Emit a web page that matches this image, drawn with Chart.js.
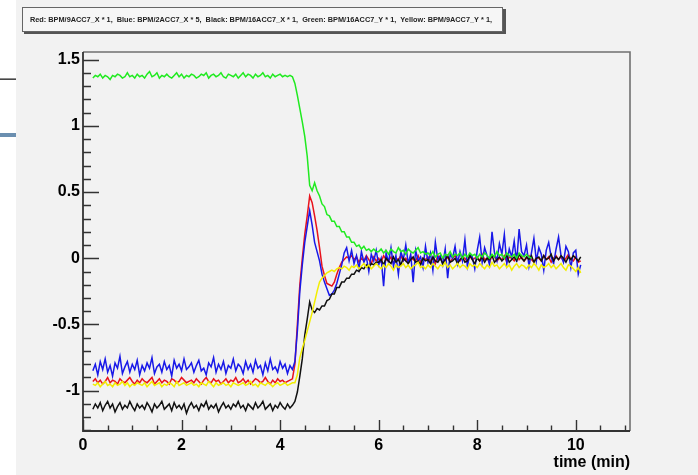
<!DOCTYPE html>
<html>
<head>
<meta charset="utf-8">
<script src="https://cdn.jsdelivr.net/npm/chart.js@4.4.1/dist/chart.umd.min.js"></script>
<style>
  html, body { margin: 0; padding: 0; background: #fff; }
  #wrap { width: 698px; height: 475px; }
</style>
</head>
<body>
<div id="wrap"><canvas id="bpm" width="698" height="475"></canvas></div>
<script>
// sampling: first sample at 0.2 min, one sample every 0.05 min
const startTime = 0.2;
const sampleStep = 0.05;

const legendText = "Red: BPM/9ACC7_X * 1,  Blue: BPM/2ACC7_X * 5,  Black: BPM/16ACC7_X * 1,  Green: BPM/16ACC7_Y * 1,  Yellow: BPM/9ACC7_Y * 1,";
const xTicks = [0, 2, 4, 6, 8, 10];
const yTicks = [-1, -0.5, 0, 0.5, 1, 1.5];

const red = [
  -0.93,-0.91,-0.94,-0.92,-0.95,-0.93,-0.90,-0.94,-0.92,-0.93,-0.95,-0.91,-0.93,-0.94,-0.92,-0.90,-0.93,-0.95,-0.92,-0.94,
  -0.91,-0.93,-0.94,-0.92,-0.90,-0.95,-0.93,-0.91,-0.94,-0.92,-0.93,-0.95,-0.91,-0.92,-0.94,-0.93,-0.90,-0.92,-0.94,-0.93,
  -0.92,-0.94,-0.91,-0.93,-0.95,-0.92,-0.90,-0.93,-0.94,-0.91,-0.93,-0.92,-0.95,-0.93,-0.91,-0.94,-0.92,-0.93,-0.90,-0.94,
  -0.93,-0.91,-0.94,-0.92,-0.95,-0.93,-0.91,-0.92,-0.94,-0.93,-0.90,-0.93,-0.95,-0.92,-0.94,-0.91,-0.93,-0.92,-0.94,-0.93,
  -0.92,-0.91,
  -0.80,-0.50,-0.20,0.00,0.18,0.32,0.47,0.42,0.32,0.21,0.08,-0.06,-0.13,-0.19,-0.20,-0.21,-0.18,-0.12,-0.07,-0.03,-0.01,0.01,0.00,0.02,
  -0.01,0.01,-0.03,0.00,-0.02,0.02,-0.01,-0.04,0.01,-0.02,
  0.00,-0.03,0.02,-0.01,-0.02,0.01,-0.04,0.00,-0.01,0.02,
  -0.02,0.00,-0.03,0.01,-0.01,-0.02,0.02,-0.03,0.00,-0.01,
  0.01,-0.02,0.00,-0.04,0.02,-0.01,0.00,-0.02,0.01,-0.03,
  0.00,0.02,-0.01,-0.02,0.01,0.00,-0.03,0.02,-0.01,0.00,
  0.01,-0.02,0.03,-0.01,0.00,-0.03,0.02,0.01,-0.02,0.00,
  -0.01,0.02,-0.03,0.01,0.00,-0.02,0.03,-0.01,0.01,-0.02,
  0.00,0.02,-0.01,-0.03,0.01,0.00,-0.02,0.02,-0.01,0.01,
  -0.03,0.00,0.02,-0.01,0.01,-0.02,0.00,0.03,-0.01,-0.02,
  0.01,-0.03,-0.02
];

const blue = [
  -0.85,-0.80,-0.88,-0.78,-0.84,-0.76,-0.86,-0.81,-0.89,-0.79,-0.83,-0.74,-0.87,-0.82,-0.78,-0.86,-0.80,-0.84,-0.77,-0.88,
  -0.81,-0.85,-0.79,-0.83,-0.75,-0.87,-0.82,-0.80,-0.86,-0.78,-0.84,-0.81,-0.89,-0.77,-0.83,-0.80,-0.85,-0.76,-0.84,-0.82,
  -0.79,-0.86,-0.81,-0.77,-0.85,-0.83,-0.88,-0.79,-0.82,-0.75,-0.86,-0.80,-0.84,-0.78,-0.87,-0.81,-0.83,-0.76,-0.85,-0.80,
  -0.82,-0.87,-0.78,-0.84,-0.80,-0.86,-0.77,-0.83,-0.81,-0.88,-0.79,-0.85,-0.76,-0.84,-0.82,-0.86,-0.78,-0.83,-0.80,-0.87,
  -0.81,-0.84,
  -0.78,-0.55,-0.25,-0.05,0.12,0.24,0.36,0.25,0.12,0.05,-0.02,-0.12,-0.18,-0.23,-0.28,-0.27,-0.24,-0.19,-0.12,-0.05,0.04,0.08,-0.02,0.06,
  -0.04,0.02,-0.08,0.05,-0.03,0.01,-0.10,0.03,-0.02,0.06,
  -0.05,0.00,-0.21,0.04,-0.03,0.08,-0.06,0.02,-0.12,0.05,
  -0.01,0.10,-0.04,0.03,-0.18,0.06,-0.02,0.01,-0.07,0.09,
  -0.03,0.04,-0.09,0.12,-0.01,0.02,-0.05,0.07,-0.15,0.03,
  0.00,0.09,-0.04,0.05,-0.02,0.14,-0.06,0.03,0.01,-0.08,
  0.06,0.16,-0.03,0.08,0.02,-0.05,0.20,0.04,-0.02,0.11,
  0.03,0.18,-0.04,0.07,0.01,0.13,-0.03,0.22,0.05,0.02,
  0.10,-0.06,0.04,0.15,-0.02,0.08,0.03,-0.09,0.06,0.12,
  0.01,-0.04,0.07,0.16,0.02,-0.03,0.09,0.05,-0.07,0.04,
  0.06,-0.12,-0.05
];

const black = [
  -1.14,-1.10,-1.13,-1.09,-1.15,-1.11,-1.08,-1.13,-1.10,-1.16,-1.12,-1.09,-1.14,-1.11,-1.13,-1.08,-1.12,-1.15,-1.10,-1.13,
  -1.11,-1.14,-1.09,-1.12,-1.16,-1.10,-1.13,-1.11,-1.08,-1.14,-1.12,-1.10,-1.15,-1.09,-1.13,-1.11,-1.14,-1.10,-1.17,-1.12,
  -1.09,-1.13,-1.11,-1.15,-1.10,-1.12,-1.08,-1.14,-1.11,-1.13,-1.10,-1.16,-1.12,-1.09,-1.13,-1.11,-1.14,-1.10,-1.12,-1.08,
  -1.13,-1.11,-1.15,-1.10,-1.12,-1.14,-1.09,-1.13,-1.11,-1.08,-1.14,-1.12,-1.10,-1.15,-1.11,-1.13,-1.09,-1.12,-1.14,-1.10,
  -1.13,-1.11,
  -1.08,-1.01,-0.89,-0.76,-0.58,-0.46,-0.33,-0.39,-0.41,-0.38,-0.39,-0.36,-0.36,-0.32,-0.31,-0.27,-0.27,-0.22,-0.22,-0.18,
  -0.18,-0.15,-0.15,-0.12,-0.12,-0.09,-0.10,-0.07,-0.08,-0.05,-0.07,-0.04,-0.05,-0.03,
  -0.03,-0.01,-0.05,0.00,-0.02,-0.04,0.01,-0.03,-0.01,-0.05,
  0.00,-0.02,-0.04,-0.01,0.01,-0.03,-0.02,-0.05,0.00,-0.02,
  -0.01,-0.04,0.01,-0.02,-0.03,0.00,-0.04,-0.01,0.02,-0.03,
  -0.02,0.00,-0.04,-0.01,0.01,-0.03,-0.02,0.02,-0.01,-0.04,
  0.00,-0.02,0.01,-0.03,0.00,-0.01,0.02,-0.03,-0.01,0.01,
  -0.02,0.00,0.02,-0.03,-0.01,0.01,-0.02,0.03,0.00,-0.02,
  0.01,-0.01,0.02,-0.03,0.00,0.01,-0.02,0.02,-0.01,0.00,
  0.03,-0.02,0.01,-0.01,0.02,0.00,-0.03,0.01,-0.01,0.02,
  0.00,-0.02,0.01
];

const green = [
  1.36,1.38,1.37,1.39,1.36,1.38,1.37,1.35,1.38,1.37,1.39,1.38,1.36,1.37,1.40,1.37,1.38,1.36,1.39,1.37,
  1.38,1.36,1.39,1.41,1.37,1.38,1.40,1.36,1.38,1.37,1.39,1.37,1.36,1.38,1.40,1.37,1.39,1.36,1.38,1.37,
  1.39,1.38,1.36,1.37,1.39,1.38,1.40,1.36,1.38,1.39,1.37,1.38,1.40,1.37,1.36,1.39,1.38,1.37,1.39,1.36,
  1.38,1.40,1.37,1.39,1.38,1.36,1.39,1.37,1.38,1.40,1.37,1.38,1.36,1.39,1.37,1.38,1.39,1.37,1.38,1.37,
  1.38,1.37,
  1.32,1.23,1.13,1.03,0.92,0.77,0.55,0.51,0.57,0.51,0.47,0.41,0.39,0.33,0.32,0.28,0.28,0.24,0.24,0.20,
  0.20,0.16,0.16,0.12,0.12,0.09,0.10,0.07,0.09,0.06,0.07,0.05,0.07,0.05,
  0.05,0.07,0.04,0.06,0.03,0.07,0.05,0.04,0.08,0.05,0.06,0.03,0.07,0.05,0.04,0.06,0.08,0.04,0.05,0.03,
  0.04,0.02,0.05,0.01,0.03,0.04,0.00,0.03,0.02,0.05,0.01,0.03,0.02,0.04,0.00,0.03,0.01,0.04,0.02,0.03,
  0.00,0.03,0.01,0.04,0.02,0.00,0.03,0.01,0.05,0.02,0.03,0.00,0.04,0.02,0.01,0.03,0.00,0.04,0.02,0.01,
  0.03,0.01,0.00
];

const yellow = [
  -0.95,-0.96,-0.94,-0.97,-0.95,-0.93,-0.96,-0.95,-0.97,-0.94,-0.96,-0.95,-0.93,-0.96,-0.94,-0.97,-0.95,-0.96,-0.94,-0.95,
  -0.96,-0.94,-0.97,-0.95,-0.93,-0.96,-0.95,-0.94,-0.97,-0.95,-0.96,-0.94,-0.95,-0.97,-0.93,-0.96,-0.95,-0.94,-0.96,-0.95,
  -0.94,-0.96,-0.95,-0.97,-0.94,-0.95,-0.96,-0.93,-0.95,-0.97,-0.94,-0.96,-0.95,-0.94,-0.96,-0.95,-0.97,-0.94,-0.95,-0.96,
  -0.95,-0.94,-0.96,-0.95,-0.93,-0.96,-0.95,-0.97,-0.94,-0.95,-0.96,-0.94,-0.95,-0.97,-0.95,-0.94,-0.96,-0.95,-0.94,-0.96,
  -0.95,-0.94,
  -0.94,-0.88,-0.75,-0.68,-0.62,-0.55,-0.48,-0.41,-0.33,-0.25,-0.18,-0.15,-0.13,-0.11,-0.10,-0.09,-0.10,-0.08,-0.07,-0.08,-0.06,-0.07,-0.09,-0.06,
  -0.07,-0.05,-0.08,-0.06,-0.04,-0.07,-0.05,-0.08,-0.06,-0.04,
  -0.06,-0.08,-0.05,-0.07,-0.04,-0.06,-0.09,-0.05,-0.07,-0.06,
  -0.04,-0.07,-0.05,-0.08,-0.06,-0.05,-0.03,-0.07,-0.06,-0.08,
  -0.05,-0.07,-0.04,-0.06,-0.08,-0.05,-0.06,-0.03,-0.07,-0.05,
  -0.08,-0.06,-0.04,-0.07,-0.05,-0.06,-0.08,-0.04,-0.06,-0.05,
  -0.07,-0.04,-0.06,-0.08,-0.05,-0.07,-0.03,-0.06,-0.05,-0.08,
  -0.06,-0.04,-0.07,-0.05,-0.09,-0.06,-0.04,-0.07,-0.05,-0.06,
  -0.08,-0.05,-0.07,-0.04,-0.06,-0.09,-0.05,-0.07,-0.06,-0.04,
  -0.07,-0.05,-0.08,-0.06,-0.04,-0.07,-0.09,-0.05,-0.06,-0.08,
  -0.10,-0.07,-0.11
];

const toPoints = vals => vals.map((v, i) => ({ x: startTime + i * sampleStep, y: v }));

function series(label, vals, color, order) {
  return {
    label: label,
    data: toPoints(vals),
    borderColor: color,
    backgroundColor: color,
    borderWidth: 1.5,
    pointRadius: 0,
    tension: 0,
    order: order
  };
}

// ROOT style decorations: grey pad, legend box, inward ticks and frame
const rootPad = {
  id: 'rootPad',
  beforeDraw(chart) {
    const c = chart.ctx;
    c.save();
    c.fillStyle = '#ffffff';
    c.fillRect(0, 0, chart.width, chart.height);
    c.fillStyle = '#f2f2f2';
    c.fillRect(16, 0, chart.width - 16, chart.height);
    // bits of the slide left of the picture
    c.fillStyle = '#1a1a1a';
    c.fillRect(0, 78.5, 16, 1.3);
    c.fillStyle = '#6b8fb0';
    c.fillRect(0, 133, 16, 4);

    // legend box with shadow
    c.fillStyle = '#555';
    c.fillRect(24, 9, 482, 25);
    c.fillStyle = '#f6f6f6';
    c.fillRect(22, 7, 481, 25);
    c.strokeStyle = '#666';
    c.lineWidth = 1;
    c.strokeRect(22.5, 7.5, 480, 24);
    c.font = 'bold 7px "Liberation Sans", Arial, sans-serif';
    c.fillStyle = '#222';
    c.textBaseline = 'middle';
    const w = c.measureText(legendText).width;
    c.translate(30, 20);
    c.scale(462 / w, 1);
    c.fillText(legendText, 0, 0);
    c.restore();
  },
  afterDatasetsDraw(chart) {
    const c = chart.ctx;
    const a = chart.chartArea;
    const xs = chart.scales.x, ys = chart.scales.y;
    c.save();
    c.strokeStyle = '#707070';
    c.lineWidth = 1.6;
    c.beginPath();
    c.moveTo(a.left, a.top);
    c.lineTo(a.right, a.top);
    c.lineTo(a.right, a.bottom);
    c.stroke();

    c.strokeStyle = '#333';
    c.lineWidth = 1.4;
    c.beginPath();
    // y ticks every 0.1, long every 0.5
    for (let k = -13; k <= 15; k++) {
      const py = Math.round(ys.getPixelForValue(k / 10)) + 0.5;
      const len = (k % 5 === 0) ? 16 : 8;
      c.moveTo(a.left, py);
      c.lineTo(a.left + len, py);
    }
    // x ticks every 0.5, long every 2
    for (let k = 0; k <= 22; k++) {
      const px = Math.round(xs.getPixelForValue(k / 2)) + 0.5;
      const len = (k % 4 === 0) ? 11 : 5.5;
      c.moveTo(px, a.bottom);
      c.lineTo(px, a.bottom - len);
    }
    c.stroke();

    c.lineWidth = 1.8;
    c.beginPath();
    c.moveTo(a.left, a.top);
    c.lineTo(a.left, a.bottom);
    c.lineTo(a.right, a.bottom);
    c.stroke();
    c.restore();
  }
};

const tickFont = { family: '"Liberation Sans", Arial, sans-serif', size: 16, weight: 'bold' };

new Chart(document.getElementById('bpm'), {
  type: 'line',
  data: {
    datasets: [
      series('Red', red, '#e8121c', 5),
      series('Blue', blue, '#1818e8', 4),
      series('Black', black, '#111111', 3),
      series('Green', green, '#20ea20', 2),
      series('Yellow', yellow, '#f2ee00', 1)
    ]
  },
  options: {
    responsive: false,
    animation: false,
    devicePixelRatio: 1,
    layout: { padding: { left: 0, right: 68, top: 52, bottom: 0 } },
    plugins: {
      legend: { display: false },
      tooltip: { enabled: false }
    },
    scales: {
      x: {
        type: 'linear',
        min: 0,
        max: 11.1,
        afterFit: s => { s.height = 44; },
        afterBuildTicks: s => { s.ticks = xTicks.map(v => ({ value: v })); },
        grid: { display: false, drawTicks: false },
        border: { display: false },
        ticks: { color: '#000', font: tickFont, padding: 5, maxRotation: 0, callback: v => String(v) },
        title: {
          display: true,
          text: 'time (min)',
          align: 'end',
          color: '#000',
          font: tickFont,
          padding: { top: 0, bottom: 3 }
        }
      },
      y: {
        min: -1.304,
        max: 1.557,
        afterFit: s => { s.width = 83; },
        afterBuildTicks: s => { s.ticks = yTicks.map(v => ({ value: v })); },
        grid: { display: false, drawTicks: false },
        border: { display: false },
        ticks: { color: '#000', font: tickFont, padding: 3, callback: v => String(v) }
      }
    }
  },
  plugins: [rootPad]
});
</script>
</body>
</html>
